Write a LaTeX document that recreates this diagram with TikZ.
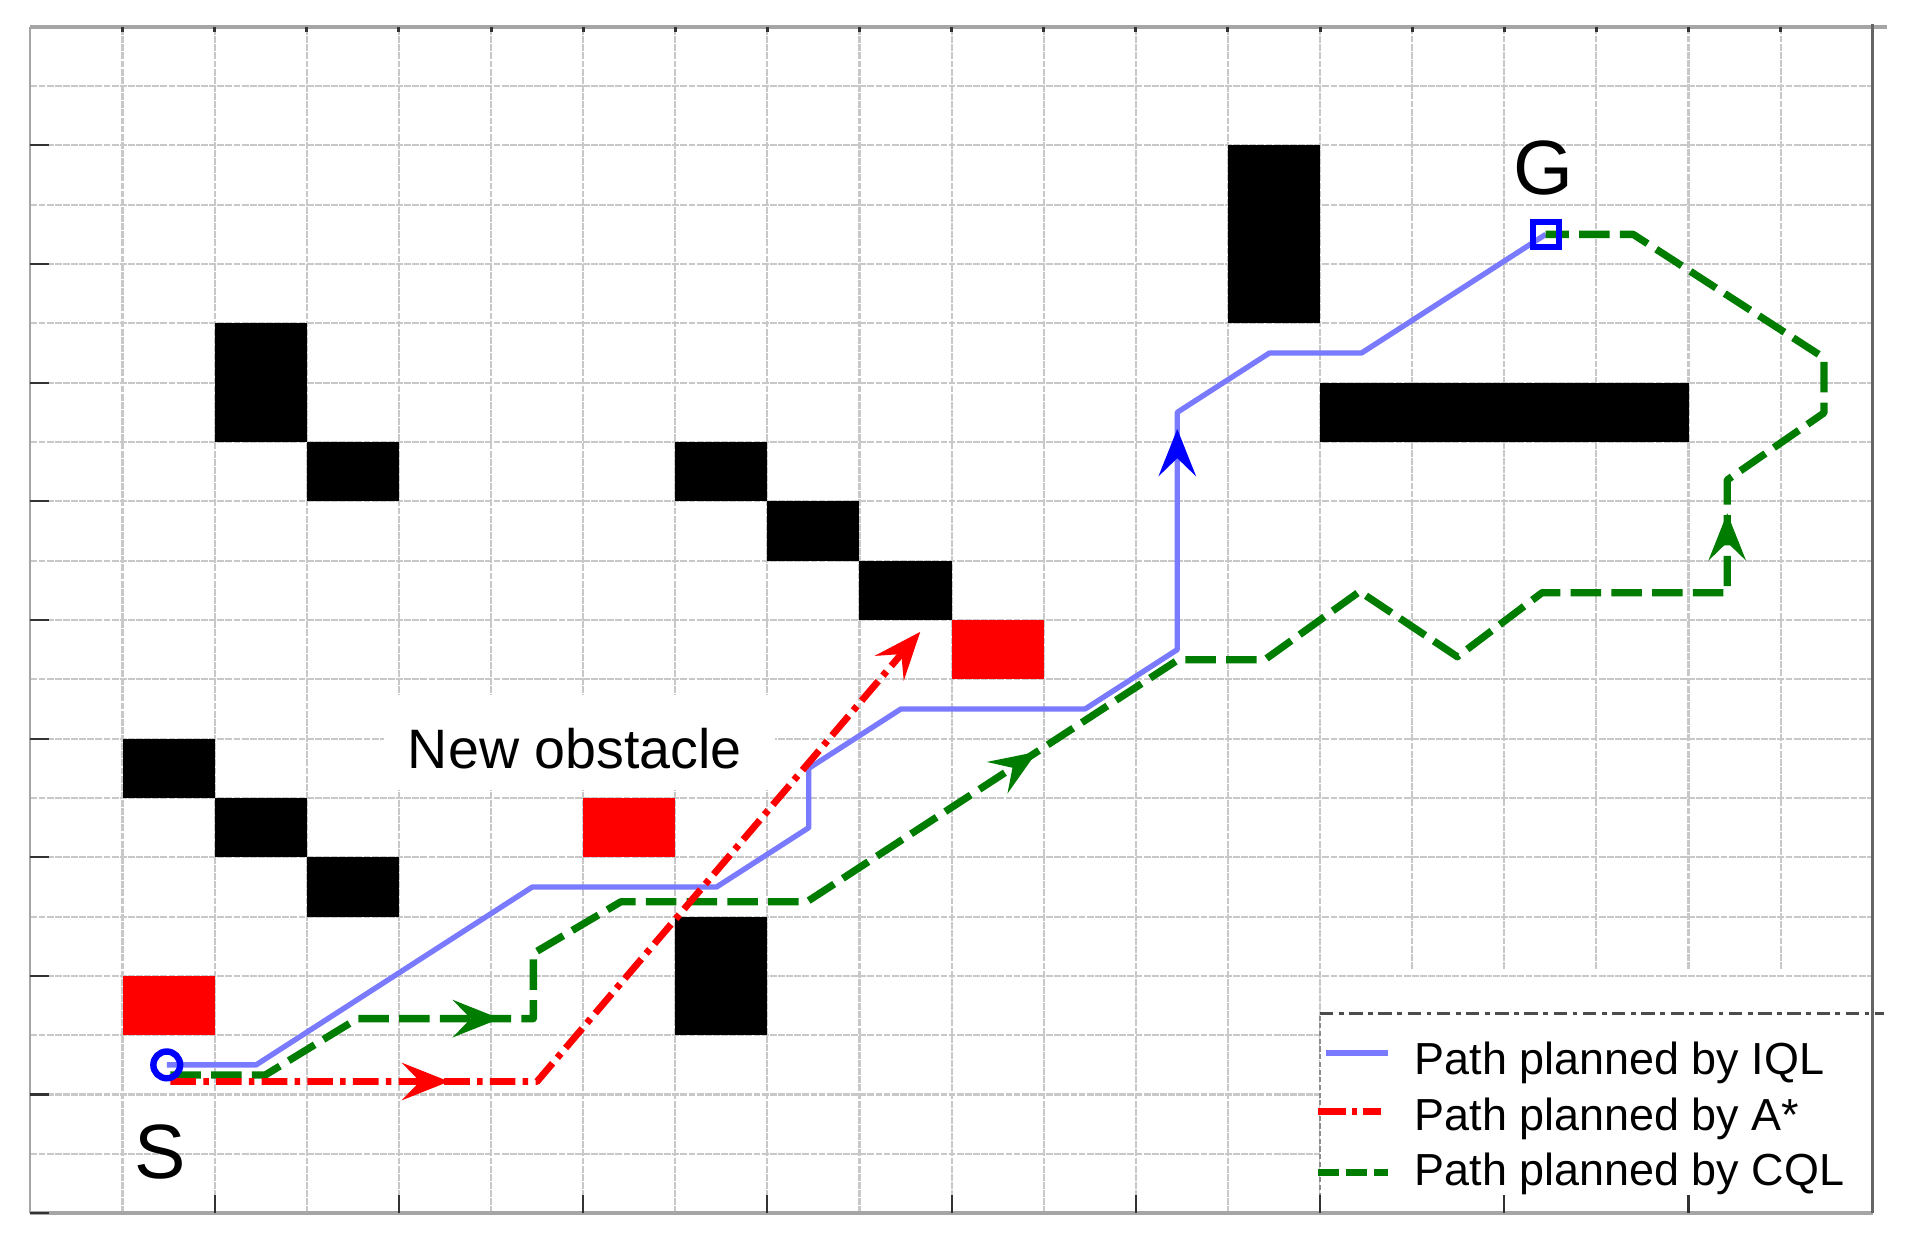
\documentclass[tikz,border=0pt]{standalone}
\usepackage{fontspec}
\setmainfont{Liberation Sans}
\usetikzlibrary{arrows.meta,decorations.markings}
\definecolor{iqlblue}{RGB}{122,122,255}
\definecolor{markblue}{RGB}{0,0,255}
\definecolor{cqlgreen}{RGB}{0,125,0}
\definecolor{gridgray}{RGB}{200,200,200}
\definecolor{bordergray}{RGB}{165,165,165}
\begin{document}
\begin{tikzpicture}[x=0.757cm,y=0.4875cm,
  gridline/.style={draw=gridgray,line width=0.5pt,dash pattern=on 1.6pt off 0.3pt},
  obst/.style={fill=black},
  newobst/.style={fill=red},
  iql/.style={draw=iqlblue,line width=1.25pt,line join=round},
  astar/.style={draw=red,line width=1.6pt,dash pattern=on 2.1mm off 0.6mm on 0.45mm off 0.6mm,line join=round},
  cql/.style={draw=cqlgreen,line width=1.7pt,dash pattern=on 2.5mm off 0.85mm,line join=round},
  >={Stealth[length=3.9mm,width=3.1mm,inset=1.5mm]},
  tickmark/.style={draw=black!80,line width=0.5pt},
  bigletter/.style={font=\fontsize{18}{20}\selectfont,inner sep=0pt},
  legtext/.style={font=\fontsize{10.5}{12}\selectfont,anchor=base west,inner sep=0pt},
  midarrow/.style 2 args={postaction={decorate},decoration={markings,mark=at position #1 with {\arrow[#2]{>}}}}
]
\useasboundingbox (-0.3303,-0.6154) rectangle (20.383,20.4513);

% grid
\foreach \j in {1,...,19} \draw[gridline] (0,\j) -- (20,\j);
\foreach \i in {1,...,14} \draw[gridline] (\i,0) -- (\i,20);
\foreach \i in {15,...,19} \draw[gridline] (\i,4.12) -- (\i,20);

% white boxes
\fill[white] (3.84,7.14) rectangle (8.08,8.74);
\fill[white] (14,0) rectangle (20,3.37);
\draw[black!45,line width=0.5pt,dash pattern=on 1.2pt off 0.6pt] (14,0) -- (14,3.37);

% borders
\draw[bordergray,line width=0.5pt] (0,0) -- (0,20);
\draw[bordergray,line width=0.9pt] (0,0) -- (20,0);
\draw[bordergray,line width=1pt] (0,20) -- (20.15,20);
\draw[black!60,line width=0.6pt] (20,0) -- (20,20.05);
\draw[black!70,line width=0.6pt,dash pattern=on 1.1mm off 0.45mm on 0.4mm off 0.45mm] (14,3.37) -- (20.12,3.37);

% ticks
\foreach \j in {0,2,...,18} \draw[tickmark] (0,\j) -- (0.2,\j);
\foreach \i in {2,4,...,18} \draw[tickmark] (\i,0) -- (\i,0.3);
\foreach \i in {1,...,19} \draw[tickmark,line width=0.7pt] (\i,20) -- (\i,19.92);

% obstacles
\fill[obst] (2,13) rectangle (3,15);
\fill[obst] (3,12) rectangle (4,13);
\fill[obst] (7,12) rectangle (8,13);
\fill[obst] (8,11) rectangle (9,12);
\fill[obst] (9,10) rectangle (10,11);
\fill[newobst] (10,9) rectangle (11,10);
\fill[obst] (13,15) rectangle (14,18);
\fill[obst] (14,13) rectangle (18,14);
\fill[obst] (1,7) rectangle (2,8);
\fill[obst] (2,6) rectangle (3,7);
\fill[obst] (3,5) rectangle (4,6);
\fill[newobst] (6,6) rectangle (7,7);
\fill[newobst] (1,3) rectangle (2,4);
\fill[obst] (7,3) rectangle (8,5);

% path coordinates
\coordinate (b0) at (1.48,2.5);
\coordinate (b1) at (2.45,2.5);
\coordinate (b2) at (5.45,5.5);
\coordinate (b3) at (7.45,5.5);
\coordinate (b4) at (8.45,6.5);
\coordinate (b5) at (8.45,7.5);
\coordinate (b6) at (9.45,8.5);
\coordinate (b7) at (11.45,8.5);
\coordinate (b8) at (12.45,9.5);
\coordinate (b9) at (12.45,13.5);
\coordinate (b10) at (13.45,14.5);
\coordinate (b11) at (14.45,14.5);
\coordinate (b12) at (16.45,16.5);

\coordinate (r0) at (1.52,2.22);
\coordinate (r1) at (5.5,2.22);
\coordinate (r2) at (9.66,9.8);

\coordinate (g0) at (1.52,2.33);
\coordinate (g1) at (2.55,2.33);
\coordinate (g2) at (3.55,3.28);
\coordinate (g3) at (5.46,3.28);
\coordinate (g4) at (5.46,4.38);
\coordinate (g5) at (6.41,5.25);
\coordinate (g6) at (8.43,5.25);
\coordinate (g7) at (12.46,9.33);
\coordinate (g8) at (13.4,9.33);
\coordinate (g9) at (14.43,10.48);
\coordinate (g10) at (15.49,9.38);
\coordinate (g11) at (16.41,10.46);
\coordinate (g12) at (18.42,10.46);
\coordinate (g13) at (18.42,12.36);
\coordinate (g14) at (19.47,13.49);
\coordinate (g15) at (19.47,14.42);
\coordinate (g16) at (17.4,16.5);
\coordinate (g17) at (16.45,16.5);

% IQL path
\draw[iql] (b0) -- (b1) -- (b2) -- (b3) -- (b4) -- (b5) -- (b6) -- (b7) -- (b8) -- (b9) -- (b10) -- (b11) -- (b12);
\path[midarrow={0.93}{markblue}] (b8) -- (b9);

% CQL path
\draw[cql] (g0) -- (g1) -- (g2) -- (g3) -- (g4) -- (g5) -- (g6) -- (g7) -- (g8) -- (g9) -- (g10) -- (g11) -- (g12) -- (g13) -- (g14) -- (g15) -- (g16) -- (g17);
\path[midarrow={0.81}{cqlgreen}] (g2) -- (g3);
\path[midarrow={0.62}{cqlgreen}] (g6) -- (g7);
\path[midarrow={0.705}{cqlgreen}] (g12) -- (g13);

% A* path
\draw[astar,->] (r0) -- (r1) -- (r2);
\path[midarrow={0.76}{red}] (r0) -- (r1);

% start and goal
\node[draw=markblue,circle,line width=1.5pt,minimum size=2.2mm,inner sep=0pt] (start) at (b0) {};
\node[draw=markblue,rectangle,line width=1.4pt,minimum size=2.1mm,inner sep=0pt] (goal) at (b12) {};

% labels
\node[bigletter] (S) at (1.41,1.03) {S};
\node[bigletter] (G) at (16.42,17.62) {G};
\node[font=\fontsize{13}{15}\selectfont,anchor=base,inner sep=0pt] (newob) at (5.91,7.5) {New obstacle};

% legend
\coordinate (l1a) at (14.06,2.70);
\coordinate (l1b) at (14.74,2.70);
\coordinate (l2a) at (13.98,1.71);
\coordinate (l2b) at (14.66,1.71);
\coordinate (l3a) at (13.98,0.68);
\coordinate (l3b) at (14.74,0.68);
\draw[iql] (l1a) -- (l1b);
\draw[astar,dash pattern=on 2.3mm off 0.5mm on 0.4mm off 0.5mm] (l2a) -- (l2b);
\draw[cql,dash pattern=on 1.7mm off 0.6mm] (l3a) -- (l3b);
\node[legtext] (t1) at (15.02,2.33) {Path planned by IQL};
\node[legtext] (t2) at (15.02,1.40) {Path planned by A*};
\node[legtext] (t3) at (15.02,0.47) {Path planned by CQL};
\end{tikzpicture}
\end{document}
